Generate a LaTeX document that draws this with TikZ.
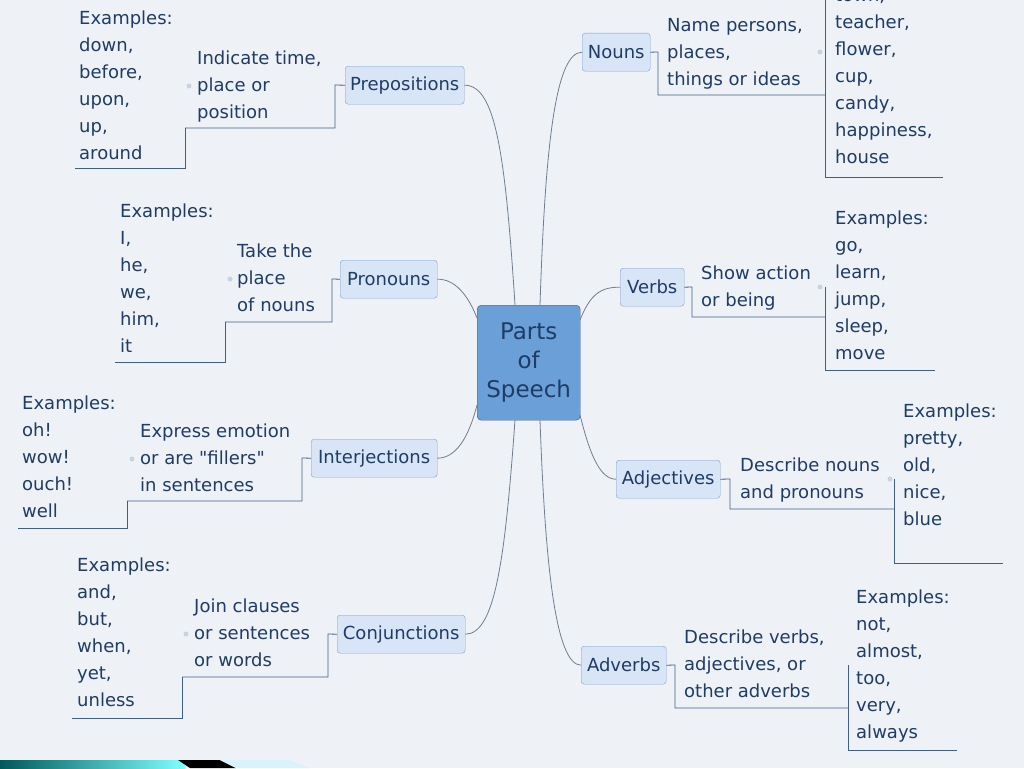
\documentclass[tikz,border=0pt]{standalone}
\usepackage{fontspec}
\setmainfont{DejaVu Sans}
\begin{document}
\begin{tikzpicture}[x=1pt,y=-1pt,
  txt/.style={text=tcol,font=\fontsize{18}{27}\selectfont,align=left,anchor=north west,inner sep=0pt,yshift=-5pt},
  topic/.style={draw=bcol,fill=tfill,rounded corners=3pt,text=tcol,font=\fontsize{18}{20}\selectfont,inner sep=0pt,anchor=north west},
  br/.style={draw=lcol,line width=0.8pt},
  cv/.style={draw=ccol,line width=0.8pt},
  dotc/.style={circle,fill=dcol,inner sep=0pt,minimum size=5pt}]
\definecolor{bg}{HTML}{EEF2F7}
\definecolor{tcol}{HTML}{1E3C66}
\definecolor{bcol}{HTML}{7FA0C8}
\definecolor{tfill}{HTML}{D8E5F7}
\definecolor{lcol}{HTML}{3F5F86}
\definecolor{ccol}{HTML}{6E7E90}
\definecolor{dcol}{HTML}{C5D3E3}
\definecolor{cfill}{RGB}{106,159,216}
\fill[bg] (0,0) rectangle (1024,768);
\useasboundingbox (0,0) rectangle (1024,768);
% bottom strip
\fill[left color=teal!70!black,right color=cyan!50] (0,760) rectangle (185,768);
\fill[black] (178,760) -- (220,760) -- (236,768) -- (190,768) -- cycle;
\fill[cyan!15] (220,760) -- (290,760) -- (310,768) -- (236,768) -- cycle;
% center
\node[draw=lcol,fill=cfill,rounded corners=4pt,text=tcol,font=\fontsize{23}{29}\selectfont,align=center,minimum width=103pt,minimum height=115pt,inner sep=0pt,anchor=north west] (c) at (477,305) {Parts\\of\\Speech};
% topics
\node[topic,minimum width=68pt,minimum height=38pt] (nouns) at (582,33) {Nouns};
\node[topic,minimum width=64pt,minimum height=38pt] (verbs) at (620,268) {Verbs};
\node[topic,minimum width=104pt,minimum height=38pt] (adj) at (616,460) {Adjectives};
\node[topic,minimum width=85pt,minimum height=38pt] (adv) at (581,646) {Adverbs};
\node[topic,minimum width=119pt,minimum height=38pt] (prep) at (345,66) {Prepositions};
\node[topic,minimum width=97pt,minimum height=38pt] (pron) at (340,260) {Pronouns};
\node[topic,minimum width=126pt,minimum height=38pt] (inter) at (311,439) {Interjections};
\node[topic,minimum width=128pt,minimum height=38pt] (conj) at (337,615) {Conjunctions};
% curves
\draw[cv] (540,305) .. controls (545,150) and (555,52) .. (nouns.west);
\draw[cv] (580,320) .. controls (590,295) and (600,287) .. (verbs.west);
\draw[cv] (580,415) .. controls (590,455) and (600,479) .. (adj.west);
\draw[cv] (540,420) .. controls (545,560) and (555,665) .. (adv.west);
\draw[cv] (515,305) .. controls (505,150) and (495,85) .. (prep.east);
\draw[cv] (477,318) .. controls (468,295) and (455,279) .. (pron.east);
\draw[cv] (477,405) .. controls (468,440) and (455,458) .. (inter.east);
\draw[cv] (515,420) .. controls (505,560) and (495,634) .. (conj.east);
% right descriptions
\node[txt] (dn) at (667,13) {Name persons,\\places,\\things or ideas};
\draw[br] (nouns.east) -- (658,52) -- (658,95) -- (825,95);
\node[txt] (en) at (835,-16) {town,\\teacher,\\flower,\\cup,\\candy,\\happiness,\\house};
\draw[br] (825,0) -- (825,177) -- (943,177);
\node[dotc] (pn) at (820,52) {};
\node[txt] (dv) at (701,261) {Show action\\or being};
\draw[br] (verbs.east) -- (692,287) -- (692,317) -- (825,317);
\node[txt] (ev) at (835,206) {Examples:\\go,\\learn,\\jump,\\sleep,\\move};
\draw[br] (825,287) -- (825,370) -- (935,370);
\node[dotc] (pv) at (820,287) {};
\node[txt] (da) at (740,453) {Describe nouns\\and pronouns};
\draw[br] (adj.east) -- (730,479) -- (730,509) -- (894,509);
\node[txt] (ea) at (903,399) {Examples:\\pretty,\\old,\\nice,\\blue};
\draw[br] (894,479) -- (894,563) -- (1003,563);
\node[dotc] (pa) at (890,479) {};
\node[txt] (dd) at (684,625) {Describe verbs,\\adjectives, or\\other adverbs};
\draw[br] (adv.east) -- (675,665) -- (675,708) -- (848,708);
\node[txt] (ed) at (856,585) {Examples:\\not,\\almost,\\too,\\very,\\always};
\draw[br] (848,665) -- (848,750) -- (957,750);
% left descriptions
\node[txt] (dp) at (197,46) {Indicate time,\\place or\\position};
\draw[br] (prep.west) -- (335,85) -- (335,128) -- (185,128);
\node[txt] (ep) at (79,6) {Examples:\\down,\\before,\\upon,\\up,\\around};
\draw[br] (185,128) -- (185,168) -- (75,168);
\node[dotc] (pp) at (189,86) {};
\node[txt] (dr) at (237,239) {Take the\\place\\of nouns};
\draw[br] (pron.west) -- (332,279) -- (332,322) -- (225,322);
\node[txt] (er) at (120,199) {Examples:\\I,\\he,\\we,\\him,\\it};
\draw[br] (225,322) -- (225,362) -- (115,362);
\node[dotc] (pr) at (230,279) {};
\node[txt] (di) at (140,419) {Express emotion\\or are \textquotedbl fillers\textquotedbl\\in sentences};
\draw[br] (inter.west) -- (302,458) -- (302,501) -- (127,501);
\node[txt] (ei) at (22,391) {Examples:\\oh!\\wow!\\ouch!\\well};
\draw[br] (127,501) -- (127,528) -- (18,528);
\node[dotc] (pi) at (132,459) {};
\node[txt] (dc) at (194,594) {Join clauses\\or sentences\\or words};
\draw[br] (conj.west) -- (328,634) -- (328,677) -- (182,677);
\node[txt] (ec) at (77,553) {Examples:\\and,\\but,\\when,\\yet,\\unless};
\draw[br] (182,677) -- (182,718) -- (72,718);
\node[dotc] (pc) at (186,634) {};
\end{tikzpicture}
\end{document}
